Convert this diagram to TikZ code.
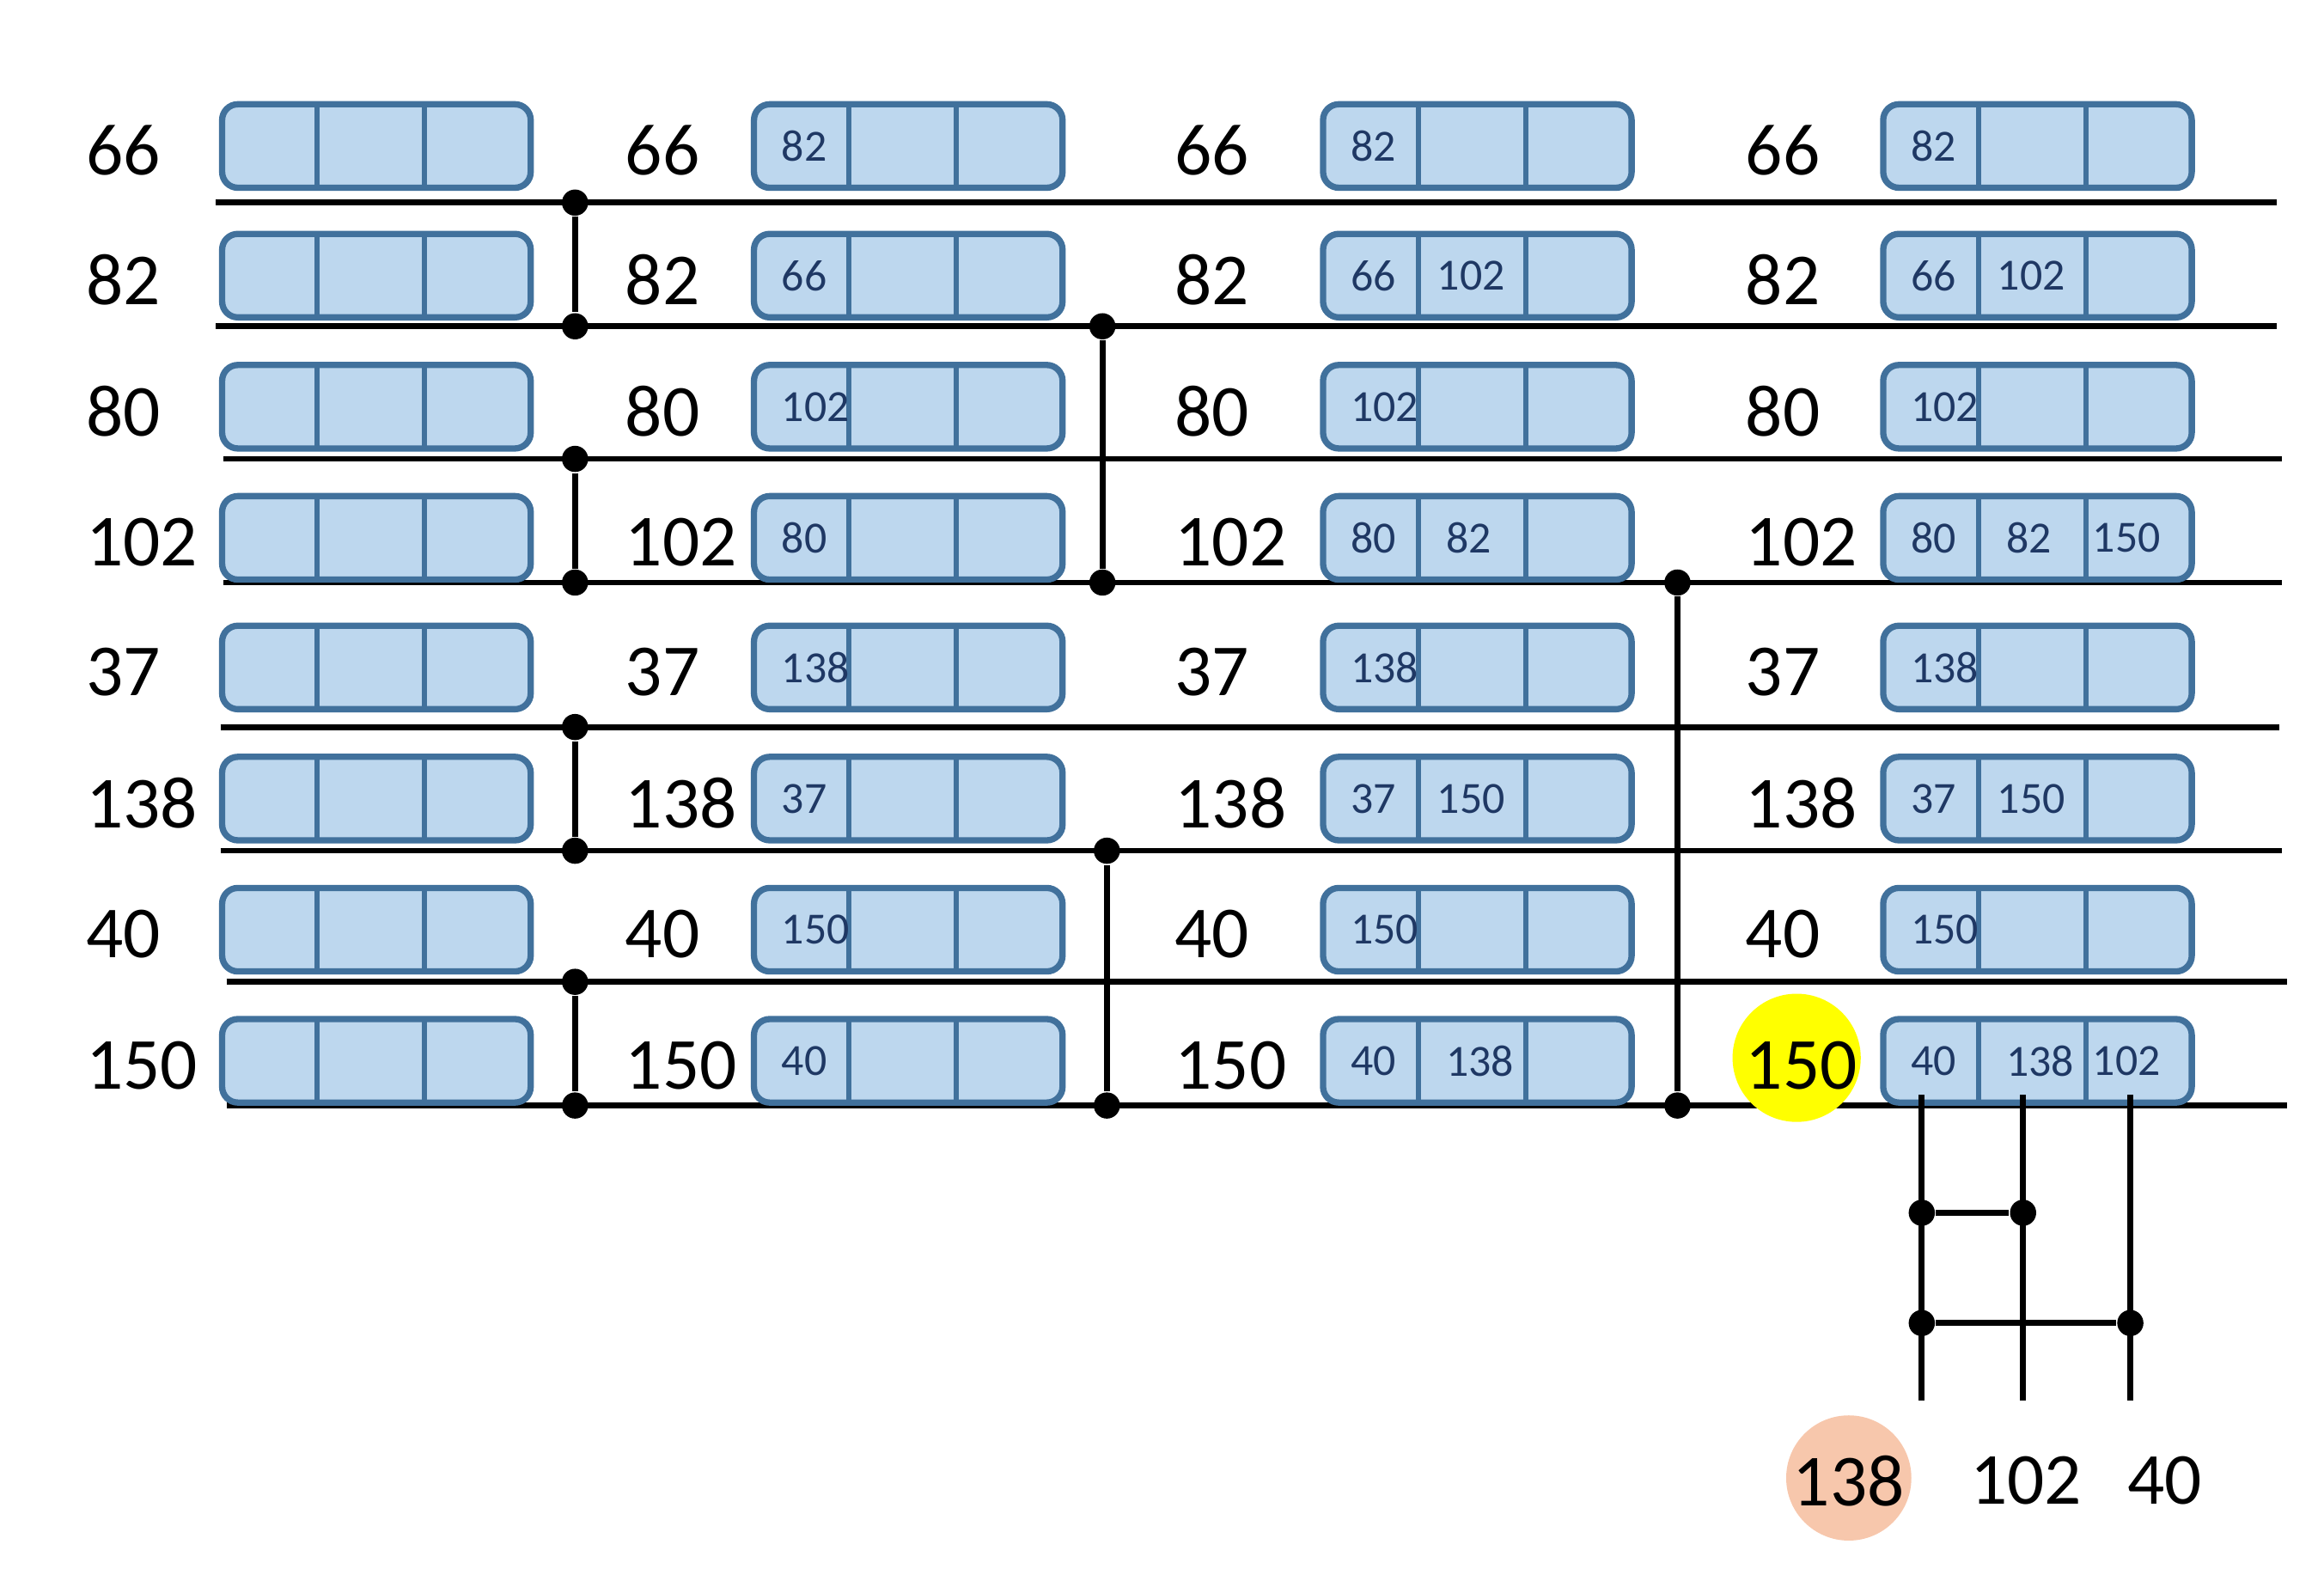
\documentclass[tikz,border=0pt]{standalone}
\usepackage{fontspec}
\setmainfont{Carlito}
\definecolor{boxfill}{RGB}{189,215,238}
\definecolor{boxline}{RGB}{65,113,156}
\definecolor{boxtext}{RGB}{31,56,100}
\definecolor{hiyel}{RGB}{255,255,0}
\definecolor{hiorg}{RGB}{247,199,172}
\tikzset{
 reg/.style={draw=boxline,fill=boxfill,line width=1.2pt,rounded corners=3pt,minimum width=2.07cm,minimum height=0.56cm,inner sep=0pt},
 big/.style={font=\fontsize{14}{16}\selectfont,anchor=west,inner sep=0pt},
 small/.style={font=\fontsize{8.5}{10}\selectfont,text=boxtext,anchor=west,inner sep=0pt},
 wire/.style={line width=1.1pt},
 dot/.style={circle,fill=black,inner sep=0pt,minimum size=5pt}
}
\begin{document}
\begin{tikzpicture}[x=0.01cm,y=-0.01cm]
\useasboundingbox (0,0) rectangle (1560,1061);
% horizontal lines
\foreach \y/\a/\b in {136/145/1528,219/145/1528,308/150/1532,391/150/1532,488/148/1530,571/148/1532,659/152/1535,742/152/1535}
  \draw[wire] (\a,\y) -- (\b,\y);
\def\rowy{{101,188,276,364,451,539,627,715}}
\def\labs{{"66","82","80","102","37","138","40","150"}}
% highlight
\node[circle,fill=hiyel,minimum size=0.86cm,inner sep=0pt] (hy) at (1206,710) {};
\node[circle,fill=hiorg,minimum size=0.84cm,inner sep=0pt] (ho) at (1241,992) {};
\foreach \i in {0,...,7}{
  \pgfmathsetmacro\yy{\rowy[\i]}
  \pgfmathsetmacro\bb{\rowy[\i]-3}
  \foreach \lx/\bx [count=\c] in {57/147,419/504,788/886,1171/1262}{
    \node[big] (l\c\i) at (\lx,\yy) {\pgfmathparse{\labs[\i]}\pgfmathresult};
    \node[reg,anchor=west] (b\c\i) at (\bx,\bb) {};
    \draw[boxline,line width=1pt] (\bx+66,\bb-28) -- (\bx+66,\bb+28);
    \draw[boxline,line width=1pt] (\bx+138,\bb-28) -- (\bx+138,\bb+28);
  }
}
% texts inside
\newcommand\cellt[4]{\node[small] (t#1#2#3) at ($(b#1#2.west)+(#3,0)$) {#4};}
\usetikzlibrary{calc}
\foreach \i/\v in {0/82,1/66,2/102,3/80,4/138,5/37,6/150,7/40}{
  \node[small] at ($(b2\i.west)+(20,0)$) {\v};
  \node[small] at ($(b4\i.west)+(20,0)$) {\v};
}
\foreach \i/\v in {0/82,1/66,2/102,3/80,4/138,5/37,6/150,7/40}
  \node[small] at ($(b3\i.west)+(20,0)$) {\v};
\foreach \i/\v in {1/102,3/82,5/150,7/138}{
  \node[small] at ($(b3\i.west)+(\ifnum\i=1 78\else\ifnum\i=5 78\else 84\fi\fi,0)$) {\v};
  \node[small] at ($(b4\i.west)+(\ifnum\i=1 78\else\ifnum\i=5 78\else 84\fi\fi,0)$) {\v};
}
\node[small] at ($(b43.west)+(142,0)$) {150};
\node[small] at ($(b47.west)+(142,0)$) {102};
% vertical connectors
\foreach \x/\ya/\yb [count=\k] in {386/136/219,386/308/391,386/488/571,386/659/742,740/219/391,743/571/742,1126/391/742}{
  \node[dot] (p\k) at (\x,\ya) {};
  \node[dot] (q\k) at (\x,\yb) {};
  \draw[wire] (p\k) -- (q\k);
}
% bottom network
\foreach \x [count=\k] in {1290,1358,1430}{
  \coordinate (s\k) at (\x,735);
  \coordinate (e\k) at (\x,940);
  \draw[wire] (s\k) -- (e\k);
}
\node[dot] (m1) at (1290,814) {};
\node[dot] (m2) at (1358,814) {};
\node[dot] (n1) at (1290,888) {};
\node[dot] (n3) at (1430,888) {};
\draw[wire] (m1) -- (m2);
\draw[wire] (n1) -- (n3);
\node[font=\fontsize{14}{16}\selectfont,inner sep=0pt] (o1) at (1241,994) {138};
\node[font=\fontsize{14}{16}\selectfont,inner sep=0pt] (o2) at (1360,994) {102};
\node[font=\fontsize{14}{16}\selectfont,inner sep=0pt] (o3) at (1453,994) {40};
\end{tikzpicture}
\end{document}
